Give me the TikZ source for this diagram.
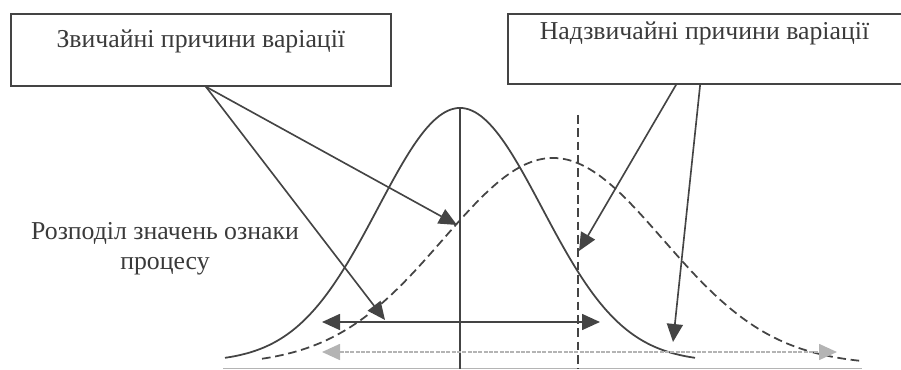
\documentclass[tikz,border=0pt]{standalone}
\usepackage{fontspec}
\setmainfont{Liberation Serif}
\usetikzlibrary{arrows.meta}

\newcommand*{\xmin}{0}
\newcommand*{\xmax}{901}
\newcommand*{\ymin}{0}
\newcommand*{\ymax}{370}

\definecolor{ink}{HTML}{444444}
\definecolor{textgray}{HTML}{3A3A3A}
\definecolor{faint}{HTML}{B4B4B4}

\begin{document}
\begin{tikzpicture}
[
	x=0.3mm, y=-0.3mm,
	color=ink,
	every node/.style={text=textgray, font=\fontsize{22}{25.6}\selectfont},
	causebox/.style={draw=ink, rectangle, line width=1.4pt, inner sep=0pt, anchor=north west},
	curvedash/.style={dash pattern=on 2.6mm off 1.4mm},
	tip/.style={-{Triangle[length=5.4mm,width=4.8mm]}},
	dtip/.style={{Triangle[length=5.4mm,width=4.8mm]}-{Triangle[length=5.4mm,width=4.8mm]}}
]

	\clip (\xmin,\ymin) rectangle (\xmax,\ymax);

	% boxes
	\node[causebox, minimum width=114mm, text height=10.2mm, text depth=11.4mm] (common) at (10,13) {Звичайні причини варіації};
	\node[causebox, minimum width=123mm, text height=7.8mm, text depth=13.2mm] (special) at (507,13) {Надзвичайні причини варіації\kern5mm};

	% label
	\node[align=center] (distlabel) at (165,249) {Розподіл значень ознаки\\процесу};

	% base line
	\draw[faint, line width=0.6pt] (223,368.5) -- (862,368.5);

	% graphs
	\draw[line width=1.5pt, domain=225:695, smooth, samples=80] plot (\x,{362 - 254*exp(-0.5*((\x-460)/82)^2)});
	\draw[line width=1.5pt, curvedash, domain=262:862, smooth, samples=90] plot (\x,{365 - 207*exp(-0.5*((\x-553)/110)^2)});

	% centre lines
	\draw[line width=1.5pt] (460,108) -- (460,369);
	\draw[line width=1.5pt, curvedash] (578,115) -- (578,369);

	% arrow ends
	\coordinate (meanA) at (457,225);
	\coordinate (tailA) at (385,320);
	\coordinate (meanB) at (579,251);
	\coordinate (tailB) at (673,342);
	\coordinate (spreadAl) at (322,322);
	\coordinate (spreadAr) at (600,322);
	\coordinate (spreadBl) at (322,352);
	\coordinate (spreadBr) at (837,352);

	% causes
	\draw[line width=1.4pt, tip] ([xshift=1.5mm]common.south) -- (meanA);
	\draw[line width=1.4pt, tip] ([xshift=1.5mm]common.south) -- (tailA);
	\draw[line width=1.4pt, tip] ([xshift=-11mm]special.south) -- (meanB);
	\draw[line width=1.4pt, tip] ([xshift=-3.8mm]special.south) -- (tailB);

	% spread
	\draw[line width=1.4pt, dtip] (spreadAl) -- (spreadAr);
	\draw[faint, line width=1.4pt, dash pattern=on 1.2mm off 0.4mm, dtip] (spreadBl) -- (spreadBr);

\end{tikzpicture}
\end{document}
